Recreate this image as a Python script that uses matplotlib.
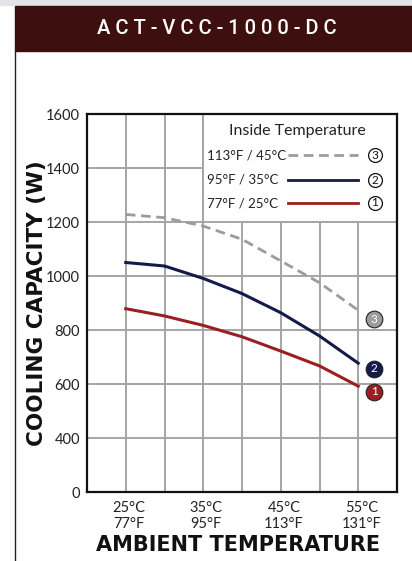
import numpy as np
import matplotlib
matplotlib.use("Agg")
import matplotlib.pyplot as plt
import matplotlib.transforms as mtransforms
from matplotlib.patches import Rectangle

# data
ambient_c = [25, 30, 35, 40, 45, 50, 55]
cap_25c = [879, 852, 817, 775, 722, 667, 592]       # 77F / 25C inside
cap_35c = [1050, 1037, 991, 935, 864, 778, 677]     # 95F / 35C inside
cap_45c = [1228, 1216, 1185, 1136, 1056, 975, 873]  # 113F / 45C inside

series_names = ["113°F / 45°C", "95°F / 35°C", "77°F / 25°C"]
series_nums = ["3", "2", "1"]
xtick_vals = [25, 35, 45, 55]
xtick_labels = ["25°C\n77°F", "35°C\n95°F", "45°C\n113°F", "55°C\n131°F"]
ytick_vals = [0, 400, 600, 800, 1000, 1200, 1400, 1600]

RED = "#9b1f22"
NAVY = "#141a4a"
GRAY = "#9c9c9c"
TXT = "#222222"
plt.rcParams['font.family'] = ['Lato', 'DejaVu Sans']

W, H = 412, 561
fig = plt.figure(figsize=(W / 100, H / 100), dpi=100)

def fx(px):
    return px / W

def fy(py):
    return 1 - py / H

# page decoration: grey strip, maroon title bar, left rule
fig.patches.append(Rectangle((0, fy(5)), 1, 5 / H, transform=fig.transFigure,
                             color="#e4e4e8", zorder=0))
fig.patches.append(Rectangle((fx(15), fy(51)), 1, 45 / H, transform=fig.transFigure,
                             color="#3d100f", zorder=1))
fig.add_artist(plt.Line2D([fx(15.5), fx(15.5)], [fy(51), 0], transform=fig.transFigure,
                          color="#222222", lw=1))
fig.text(fx(217), fy(29), " ".join("ACT-VCC-1000-DC"), color="white", fontsize=14.5,
         ha="center", va="center", family=['Roboto', 'DejaVu Sans'],
         fontweight="medium")

ax = fig.add_axes([fx(87), fy(492), fx(397) - fx(87), fy(114) - fy(492)])

# broken y axis: 0-400 squeezed into half the space
def fwd(y):
    y = np.asarray(y, dtype=float)
    return np.where(y < 400, 200 + y / 2, y)

def inv(v):
    v = np.asarray(v, dtype=float)
    return np.where(v < 400, (v - 200) * 2, v)

ax.set_yscale("function", functions=(fwd, inv))
ax.set_ylim(0, 1600)
ax.set_xlim(20, 60)

ax.set_xticks(np.arange(20, 61, 5))
ax.set_xticks([], minor=True)
ax.set_xticklabels([])
ax.set_yticks(ytick_vals)
ax.set_yticklabels([str(v) for v in ytick_vals], fontsize=10.5, color=TXT)
ax.tick_params(axis="both", length=0, pad=5)
ax.grid(True, color="#a5a5a5", lw=1.4, zorder=0)
ax.set_axisbelow(True)
for s in ax.spines.values():
    s.set_linewidth(1.6)
    s.set_color("#111111")
    s.set_zorder(6)

for xv, lab in zip(xtick_vals, xtick_labels):
    ax.text(xv + 0.4, -0.025, lab, transform=ax.get_xaxis_transform(), ha="center",
            va="top", fontsize=10.5, color=TXT, linespacing=1.1)

ax.plot(ambient_c, cap_45c, color=GRAY, lw=2, ls=(0, (3.5, 2)), zorder=3)
ax.plot(ambient_c, cap_35c, color=NAVY, lw=2.2, zorder=3)
ax.plot(ambient_c, cap_25c, color=RED, lw=2.2, zorder=3)

# numbered end markers
end_fills = [GRAY, NAVY, RED]
end_dy = [-6.5, -4, -4]
for vals, num, fc, dy in zip([cap_45c, cap_35c, cap_25c], series_nums, end_fills, end_dy):
    tr = mtransforms.offset_copy(ax.transData, fig=fig, x=11.5, y=dy, units="points")
    ax.plot(ambient_c[-1], vals[-1], "o", ms=12, mfc=fc, mec="#222222", mew=0.8,
            transform=tr, zorder=7, clip_on=False)
    ax.text(ambient_c[-1], vals[-1], num, transform=tr, ha="center", va="center",
            color="white", fontsize=8.5, zorder=8)

# legend box
ax.add_patch(Rectangle((35, 1200), 25, 400, facecolor="white", edgecolor="#a5a5a5",
                       lw=1.4, zorder=4))
fig.text(fx(297), fy(131), "Inside Temperature", ha="center", va="center",
         fontsize=11.5, color=TXT, zorder=10)
row_y = [155, 180, 203]
leg_styles = [dict(color=GRAY, ls=(0, (3.5, 2))), dict(color=NAVY), dict(color=RED)]
for name, num, ry, st in zip(series_names, series_nums, row_y, leg_styles):
    fig.text(fx(207), fy(ry), name, ha="left", va="center", fontsize=9.5, color=TXT,
             zorder=10)
    fig.add_artist(plt.Line2D([fx(288), fx(358)], [fy(ry), fy(ry)], lw=2,
                              transform=fig.transFigure, zorder=10, **st))
    fig.add_artist(plt.Line2D([fx(375)], [fy(ry)], marker="o", ms=10, mfc="white",
                              mec="#111111", mew=0.9, transform=fig.transFigure,
                              zorder=10))
    fig.text(fx(375), fy(ry), num, ha="center", va="center", fontsize=8.5,
             color="#111111", zorder=11)

fig.text(fx(37), fy(303), "COOLING CAPACITY (W)", rotation=90, ha="center",
         va="center", fontsize=15.5, fontweight="bold", color="#111111",
         family="DejaVu Sans")
fig.text(fx(238), fy(545), "AMBIENT TEMPERATURE", ha="center", va="center",
         fontsize=15, fontweight="bold", color="#111111", family="DejaVu Sans")

fig.savefig("out.png", dpi=100)
